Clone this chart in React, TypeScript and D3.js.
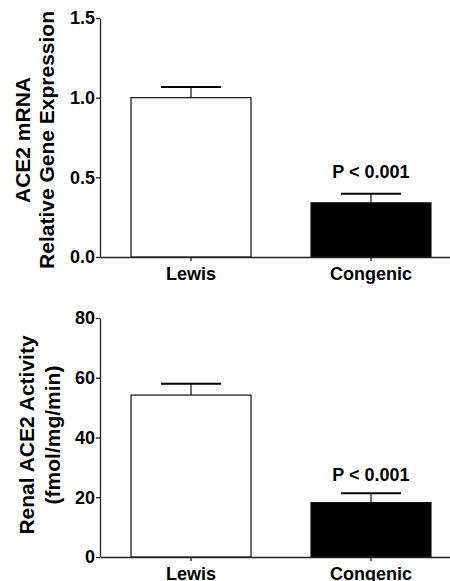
import React, { useEffect, useRef } from 'react';
import * as d3 from 'd3';

const categories = ['Lewis', 'Congenic'];
const barFills = ['#ffffff', '#000000'];

const mrnaMean = [1.0, 0.34];
const mrnaSem = [0.067, 0.057];
const mrnaTicks = [0, 0.5, 1.0, 1.5];
const mrnaLabel = ['ACE2 mRNA', 'Relative Gene Expression'];

const activityMean = [54.2, 18.2];
const activitySem = [3.8, 3.1];
const activityTicks = [0, 20, 40, 60, 80];
const activityLabel = ['Renal ACE2 Activity', '(fmol/mg/min)'];

const pLabel = 'P < 0.001';

const W = 450;
const H = 581;
const FONT = '"Liberation Sans", Arial, Helvetica, sans-serif';

const panels = [
  {
    means: mrnaMean,
    sems: mrnaSem,
    ticks: mrnaTicks,
    fmt: d3.format('.1f'),
    domain: [0, 1.5],
    yTop: 18,
    yBottom: 257,
    labelLines: mrnaLabel,
    labelX: [30, 54],
    labelCY: 140,
    pDy: -15.5,
  },
  {
    means: activityMean,
    sems: activitySem,
    ticks: activityTicks,
    fmt: d3.format('d'),
    domain: [0, 80],
    yTop: 318,
    yBottom: 557,
    labelLines: activityLabel,
    labelX: [34, 60],
    labelCY: 435,
    pDy: -12.7,
  },
];

export default function App() {
  const ref = useRef<SVGSVGElement>(null);

  useEffect(() => {
    const svg = d3.select(ref.current);
    svg.selectAll('*').remove();

    panels.forEach((p) => {
      const g = svg.append('g');
      const y = d3.scaleLinear().domain(p.domain).range([p.yBottom, p.yTop]);
      const x = d3
        .scaleBand<string>()
        .domain(categories)
        .range([100, 450])
        .paddingInner(1 / 3)
        .paddingOuter(0.139)
        .align(0.62);

      // bars
      g.selectAll('rect.bar')
        .data(categories)
        .join('rect')
        .attr('class', 'bar')
        .attr('x', (c) => x(c)!)
        .attr('width', x.bandwidth())
        .attr('y', (c, i) => y(p.means[i]))
        .attr('height', (c, i) => y(0) - y(p.means[i]))
        .attr('fill', (c, i) => barFills[i])
        .attr('stroke', '#111')
        .attr('stroke-width', 1.2);

      // error bars
      categories.forEach((c, i) => {
        const cx = x(c)! + x.bandwidth() / 2;
        const top = y(p.means[i] + p.sems[i]);
        g.append('line')
          .attr('x1', cx)
          .attr('x2', cx)
          .attr('y1', y(p.means[i]))
          .attr('y2', top)
          .attr('stroke', '#111')
          .attr('stroke-width', 1.2);
        g.append('line')
          .attr('x1', cx - x.bandwidth() / 4)
          .attr('x2', cx + x.bandwidth() / 4)
          .attr('y1', top)
          .attr('y2', top)
          .attr('stroke', '#000')
          .attr('stroke-width', 2);
      });

      // y axis
      const ya = g
        .append('g')
        .attr('transform', 'translate(100,0)')
        .call(
          d3
            .axisLeft(y)
            .tickValues(p.ticks)
            .tickFormat((d) => p.fmt(d as number))
            .tickSize(4)
            .tickSizeOuter(0)
            .tickPadding(1)
        );
      // x axis
      const xa = g
        .append('g')
        .attr('transform', `translate(0,${p.yBottom})`)
        .call(d3.axisBottom(x).tickSize(4).tickSizeOuter(0).tickPadding(6));

      [ya, xa].forEach((a) => {
        a.selectAll('path,line').attr('stroke', '#222').attr('stroke-width', 1.3);
        a.selectAll('text')
          .attr('fill', '#000')
          .style('font-family', FONT)
          .style('font-weight', 'bold')
          .style('font-size', '18px');
      });

      // P-value annotation over Congenic
      const ci = 1;
      const cx = x(categories[ci])! + x.bandwidth() / 2;
      g.append('text')
        .attr('x', cx)
        .attr('y', y(p.means[ci] + p.sems[ci]) + p.pDy)
        .attr('text-anchor', 'middle')
        .style('font-family', FONT)
        .style('font-weight', 'bold')
        .style('font-size', '18px')
        .text(pLabel);

      // y label
      p.labelLines.forEach((line, li) => {
        g.append('text')
          .attr('transform', `translate(${p.labelX[li]},${p.labelCY}) rotate(-90)`)
          .attr('text-anchor', 'middle')
          .style('font-family', FONT)
          .style('font-weight', 'bold')
          .style('font-size', '21px')
          .text(line);
      });
    });
  }, []);

  return (
    <svg
      ref={ref}
      width={W}
      height={H}
      style={{ position: 'absolute', left: 0, top: 0, background: '#fff' }}
    />
  );
}
